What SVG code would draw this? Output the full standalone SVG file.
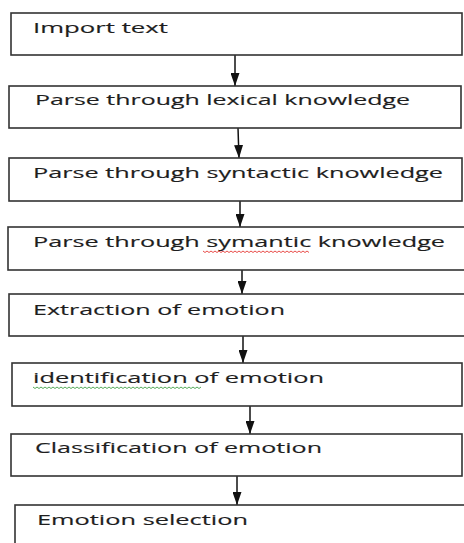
<svg xmlns="http://www.w3.org/2000/svg" width="464" height="543" viewBox="0 0 464 543">
  <style>
    .box { fill: #ffffff; stroke: #333333; stroke-width: 1.6; }
    .label { font-family: "Open Sans", "Liberation Sans", sans-serif; font-size: 15px; fill: #1e1e1e; stroke: #1e1e1e; stroke-width: 0.15; }
    .link { stroke: #111111; stroke-width: 1.5; fill: none; }
    .spell-red { stroke: #e53935; stroke-width: 0.9; fill: none; }
    .spell-green { stroke: #43a047; stroke-width: 0.9; fill: none; }
  </style>
  <defs>
    <marker id="arrow" viewBox="0 0 13 9" refX="13" refY="4.5" markerWidth="13" markerHeight="9" markerUnits="userSpaceOnUse" orient="auto">
      <path d="M0,0 L13,4.5 L0,9 Z" fill="#111111"/>
    </marker>
  </defs>
  <rect width="464" height="543" fill="#ffffff"/>

  <g id="connectors">
    <line class="link" x1="235" y1="55" x2="235" y2="86" marker-end="url(#arrow)"/>
    <line class="link" x1="238" y1="128" x2="239" y2="158" marker-end="url(#arrow)"/>
    <line class="link" x1="240" y1="201" x2="240" y2="227" marker-end="url(#arrow)"/>
    <line class="link" x1="242" y1="270" x2="242" y2="294" marker-end="url(#arrow)"/>
    <line class="link" x1="243" y1="336" x2="243" y2="363" marker-end="url(#arrow)"/>
    <line class="link" x1="250" y1="406" x2="250" y2="434" marker-end="url(#arrow)"/>
    <line class="link" x1="237" y1="476" x2="237" y2="505" marker-end="url(#arrow)"/>
  </g>

  <g id="import-text">
    <rect class="box" x="11" y="13" width="451" height="42"/>
    <text class="label" x="33" y="33" textLength="135" lengthAdjust="spacingAndGlyphs">Import text</text>
  </g>

  <g id="lexical">
    <rect class="box" x="9" y="86" width="452" height="42"/>
    <text class="label" x="35" y="105" textLength="375" lengthAdjust="spacingAndGlyphs">Parse through lexical knowledge</text>
  </g>

  <g id="syntactic">
    <rect class="box" x="9" y="158" width="453" height="43"/>
    <text class="label" x="33" y="178" textLength="410" lengthAdjust="spacingAndGlyphs">Parse through syntactic knowledge</text>
  </g>

  <g id="symantic">
    <rect class="box" x="8" y="227" width="458" height="43"/>
    <text class="label" x="33" y="247" textLength="412" lengthAdjust="spacingAndGlyphs">Parse through symantic knowledge</text>
    <path class="spell-red" d="M203,251 l2,1.5 l2,-1.5 l2,1.5 l2,-1.5 l2,1.5 l2,-1.5 l2,1.5 l2,-1.5 l2,1.5 l2,-1.5 l2,1.5 l2,-1.5 l2,1.5 l2,-1.5 l2,1.5 l2,-1.5 l2,1.5 l2,-1.5 l2,1.5 l2,-1.5 l2,1.5 l2,-1.5 l2,1.5 l2,-1.5 l2,1.5 l2,-1.5 l2,1.5 l2,-1.5 l2,1.5 l2,-1.5 l2,1.5 l2,-1.5 l2,1.5 l2,-1.5 l2,1.5 l2,-1.5 l2,1.5 l2,-1.5 l2,1.5 l2,-1.5 l2,1.5 l2,-1.5 l2,1.5 l2,-1.5 l2,1.5 l2,-1.5 l2,1.5 l2,-1.5 l2,1.5 l2,-1.5 l2,1.5 l2,-1.5 l2,1.5"/>
  </g>

  <g id="extraction">
    <rect class="box" x="9" y="294" width="458" height="42"/>
    <text class="label" x="33" y="315" textLength="252" lengthAdjust="spacingAndGlyphs">Extraction of emotion</text>
  </g>

  <g id="identification">
    <rect class="box" x="12" y="363" width="450" height="43"/>
    <text class="label" x="33" y="383" textLength="291" lengthAdjust="spacingAndGlyphs">identification of emotion</text>
    <path class="spell-green" d="M33,387 l2,1.5 l2,-1.5 l2,1.5 l2,-1.5 l2,1.5 l2,-1.5 l2,1.5 l2,-1.5 l2,1.5 l2,-1.5 l2,1.5 l2,-1.5 l2,1.5 l2,-1.5 l2,1.5 l2,-1.5 l2,1.5 l2,-1.5 l2,1.5 l2,-1.5 l2,1.5 l2,-1.5 l2,1.5 l2,-1.5 l2,1.5 l2,-1.5 l2,1.5 l2,-1.5 l2,1.5 l2,-1.5 l2,1.5 l2,-1.5 l2,1.5 l2,-1.5 l2,1.5 l2,-1.5 l2,1.5 l2,-1.5 l2,1.5 l2,-1.5 l2,1.5 l2,-1.5 l2,1.5 l2,-1.5 l2,1.5 l2,-1.5 l2,1.5 l2,-1.5 l2,1.5 l2,-1.5 l2,1.5 l2,-1.5 l2,1.5 l2,-1.5 l2,1.5 l2,-1.5 l2,1.5 l2,-1.5 l2,1.5 l2,-1.5 l2,1.5 l2,-1.5 l2,1.5 l2,-1.5 l2,1.5 l2,-1.5 l2,1.5 l2,-1.5 l2,1.5 l2,-1.5 l2,1.5 l2,-1.5 l2,1.5 l2,-1.5 l2,1.5 l2,-1.5 l2,1.5 l2,-1.5 l2,1.5 l2,-1.5 l2,1.5 l2,-1.5 l2,1.5 l2,-1.5"/>
  </g>

  <g id="classification">
    <rect class="box" x="11" y="434" width="451" height="42"/>
    <text class="label" x="35" y="453" textLength="287" lengthAdjust="spacingAndGlyphs">Classification of emotion</text>
  </g>

  <g id="emotion-selection">
    <rect class="box" x="15" y="505" width="455" height="45"/>
    <text class="label" x="37" y="525" textLength="211" lengthAdjust="spacingAndGlyphs">Emotion selection</text>
  </g>
</svg>
